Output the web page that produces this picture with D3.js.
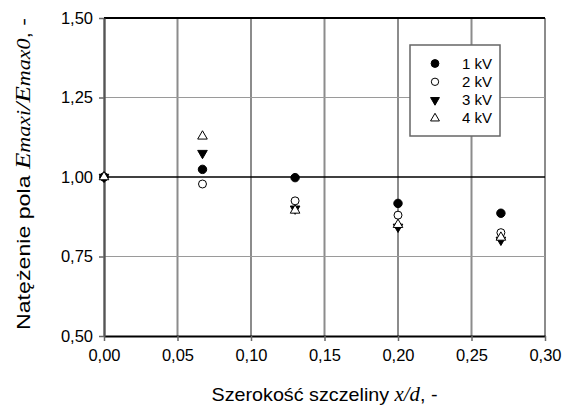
<!DOCTYPE html>
<html lang="pl">
<head>
<meta charset="utf-8">
<title>Natężenie pola</title>
<script src="https://d3js.org/d3.v7.min.js"></script>
<style>
  body { margin: 0; background: #fff; }
  text { font-family: "Liberation Sans", Arial, sans-serif; fill: #000; }
  .it { font-family: "Liberation Serif", "Times New Roman", serif; font-style: italic; }
</style>
</head>
<body>
<script>
// data
var xVals = [0, 0.067, 0.13, 0.20, 0.27];
var kv1 = [1.00, 1.024, 0.998, 0.917, 0.886];
var kv2 = [1.00, 0.978, 0.925, 0.880, 0.825];
var kv3 = [1.00, 1.075, 0.900, 0.843, 0.802];
var kv4 = [1.00, 1.128, 0.895, 0.850, 0.810];
var seriesNames = ["1 kV", "2 kV", "3 kV", "4 kV"];
var xTicks = [0, 0.05, 0.10, 0.15, 0.20, 0.25, 0.30];
var yTicks = [0.50, 0.75, 1.00, 1.25, 1.50];

var W = 567, H = 412;
var margin = {top: 18, right: 22, bottom: 76, left: 104};

var svg = d3.select("body").append("svg")
    .attr("width", W).attr("height", H);

var x = d3.scaleLinear().domain([0, 0.30]).range([margin.left, W - margin.right]);
var y = d3.scaleLinear().domain([0.5, 1.5]).range([H - margin.bottom, margin.top]);
var fmt = function (d) { return d3.format(".2f")(d).replace(".", ","); };

// vertical grid
svg.append("g").selectAll("line")
    .data(xTicks.slice(1))
    .join("line")
    .attr("x1", d => x(d)).attr("x2", d => x(d))
    .attr("y1", y(1.5)).attr("y2", y(0.5))
    .attr("stroke", "#8c8c8c").attr("stroke-width", 2);

// horizontal grid
svg.append("g").selectAll("line")
    .data([0.75, 1.25])
    .join("line")
    .attr("x1", x(0)).attr("x2", x(0.3))
    .attr("y1", d => y(d)).attr("y2", d => y(d))
    .attr("stroke", "#9a9a9a").attr("stroke-width", 1.2);

svg.append("line")
    .attr("x1", x(0)).attr("x2", x(0.3))
    .attr("y1", y(1)).attr("y2", y(1))
    .attr("stroke", "#000").attr("stroke-width", 1.3);

svg.append("line")
    .attr("x1", x(0)).attr("x2", x(0.3))
    .attr("y1", y(1.5)).attr("y2", y(1.5))
    .attr("stroke", "#000").attr("stroke-width", 2);

// axes
var xAxis = svg.append("g")
    .attr("transform", "translate(0," + y(0.5) + ")")
    .call(d3.axisBottom(x).tickValues(xTicks).tickFormat(fmt).tickSize(5).tickSizeOuter(0));
xAxis.select(".domain").attr("stroke", "#000").attr("stroke-width", 2.2);
xAxis.selectAll(".tick line").attr("stroke", "#666").attr("stroke-width", 1.5);
xAxis.selectAll(".tick text").attr("font-size", 16.5).attr("dy", "1.05em")
    .style("font-family", "Liberation Sans, Arial, sans-serif");

var yAxis = svg.append("g")
    .attr("transform", "translate(" + x(0) + ",0)")
    .call(d3.axisLeft(y).tickValues(yTicks).tickFormat(fmt).tickSize(5).tickSizeOuter(0));
yAxis.select(".domain").attr("stroke", "#555").attr("stroke-width", 2.4);
yAxis.selectAll(".tick line").attr("stroke", "#666").attr("stroke-width", 1.5);
yAxis.selectAll(".tick text").attr("font-size", 16.5).attr("x", -11)
    .style("font-family", "Liberation Sans, Arial, sans-serif");

// axis titles
var xt = svg.append("text")
    .attr("x", (x(0) + x(0.3)) / 2).attr("y", 401)
    .attr("text-anchor", "middle").attr("font-size", 19)
    .attr("textLength", 226).attr("lengthAdjust", "spacingAndGlyphs");
xt.append("tspan").text("Szerokość szczeliny ");
xt.append("tspan").attr("class", "it").attr("font-size", 20).text("x/d");
xt.append("tspan").text(", -");

var yt = svg.append("text")
    .attr("transform", "translate(30,174) rotate(-90)")
    .attr("text-anchor", "middle").attr("font-size", 19)
    .attr("textLength", 312).attr("lengthAdjust", "spacingAndGlyphs");
yt.append("tspan").text("Natężenie pola ");
yt.append("tspan").attr("class", "it").attr("font-size", 22).text("E");
yt.append("tspan").attr("class", "it").attr("font-size", 18).text("maxi");
yt.append("tspan").attr("class", "it").attr("font-size", 22).text("/E");
yt.append("tspan").attr("class", "it").attr("font-size", 18).text("max0");
yt.append("tspan").text(", -");

// markers
var series = [kv1, kv2, kv3, kv4];
var symDef = [
  {type: d3.symbolCircle, size: 56, fill: "#000", stroke: "#000", rot: 0},
  {type: d3.symbolCircle, size: 50, fill: "#fff", stroke: "#000", rot: 0},
  {type: d3.symbolTriangle, size: 40, fill: "#000", stroke: "#000", rot: 180},
  {type: d3.symbolTriangle, size: 40, fill: "#fff", stroke: "#000", rot: 0}
];

series.forEach(function (vals, i) {
  var s = symDef[i];
  svg.append("g").selectAll("path")
      .data(vals)
      .join("path")
      .attr("d", d3.symbol().type(s.type).size(s.size))
      .attr("transform", (d, j) => "translate(" + x(xVals[j]) + "," + y(d) + ") rotate(" + s.rot + ")")
      .attr("fill", s.fill).attr("stroke", s.stroke).attr("stroke-width", 1);
});

// legend
var lg = svg.append("g").attr("transform", "translate(410,45)");
lg.append("rect").attr("width", 90).attr("height", 91)
    .attr("fill", "#fff").attr("stroke", "#666").attr("stroke-width", 1.5);
seriesNames.forEach(function (name, i) {
  var s = symDef[i];
  var row = lg.append("g").attr("transform", "translate(0," + (18.5 + i * 18.3) + ")");
  row.append("path")
      .attr("d", d3.symbol().type(s.type).size(s.size * 0.85))
      .attr("transform", "translate(25,0) rotate(" + s.rot + ")")
      .attr("fill", s.fill).attr("stroke", s.stroke).attr("stroke-width", 1);
  row.append("text").attr("x", 82).attr("y", 5).attr("text-anchor", "end")
      .attr("font-size", 15).text(name);
});
</script>
</body>
</html>
